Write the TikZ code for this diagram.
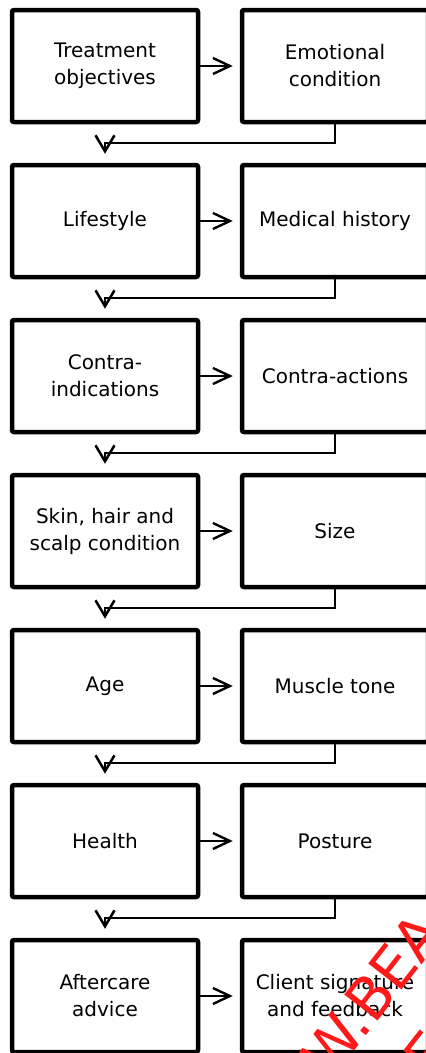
\documentclass[tikz,border=0pt]{standalone}
\usepackage{fontspec}
\setmainfont{DejaVu Sans}
\usetikzlibrary{arrows.meta}
\begin{document}
\begin{tikzpicture}[x=1pt,y=-1pt,
  box/.style={draw, line width=4.5pt, rounded corners=2pt, minimum width=186pt,
    minimum height=112pt, inner sep=0pt, align=center,
    font=\fontsize{20}{27}\selectfont},
  harrow/.style={line width=2.4pt, -{Straight Barb[length=17pt,width=16pt]}, shorten >=7pt},
  varrow/.style={line width=1.6pt, -{Straight Barb[length=16pt,width=19pt,line width=2.5pt]}, shorten >=9pt},
  wm/.style={text=red!90, font=\fontsize{58}{58}\selectfont, rotate=52, inner sep=0pt}]
\fill[white] (0,0) rectangle (426,1053);
\useasboundingbox (0,0) rectangle (426,1053);

\node[box] (L1) at (105,66)  {Treatment\\objectives};
\node[box] (R1) at (335,66)  {Emotional\\condition};
\node[box] (L2) at (105,221) {Lifestyle};
\node[box] (R2) at (335,221) {Medical history};
\node[box] (L3) at (105,376) {Contra-\\indications};
\node[box] (R3) at (335,376) {Contra-actions};
\node[box] (L4) at (105,531) {Skin, hair and\\scalp condition};
\node[box] (R4) at (335,531) {Size};
\node[box] (L5) at (105,686) {Age};
\node[box] (R5) at (335,686) {Muscle tone};
\node[box] (L6) at (105,841) {Health};
\node[box] (R6) at (335,841) {Posture};
\node[box] (L7) at (105,996) {Aftercare\\advice};
\node[box] (R7) at (335,996) {Client signature\\and feedback};

\foreach \i in {1,...,7} {
  \draw[harrow] (L\i.east) -- (R\i.west);
}

\coordinate (b1) at (105,143);
\coordinate (b2) at (105,298);
\coordinate (b3) at (105,453);
\coordinate (b4) at (105,608);
\coordinate (b5) at (105,763);
\coordinate (b6) at (105,918);
\draw[varrow] (R1.south) |- (b1) -- (L2.north);
\draw[varrow] (R2.south) |- (b2) -- (L3.north);
\draw[varrow] (R3.south) |- (b3) -- (L4.north);
\draw[varrow] (R4.south) |- (b4) -- (L5.north);
\draw[varrow] (R5.south) |- (b5) -- (L6.north);
\draw[varrow] (R6.south) |- (b6) -- (L7.north);

\node[wm] (wm1) at (372,994) {W.BEA};
\node[wm] (wm2) at (428,1054) {E};
\end{tikzpicture}
\end{document}
